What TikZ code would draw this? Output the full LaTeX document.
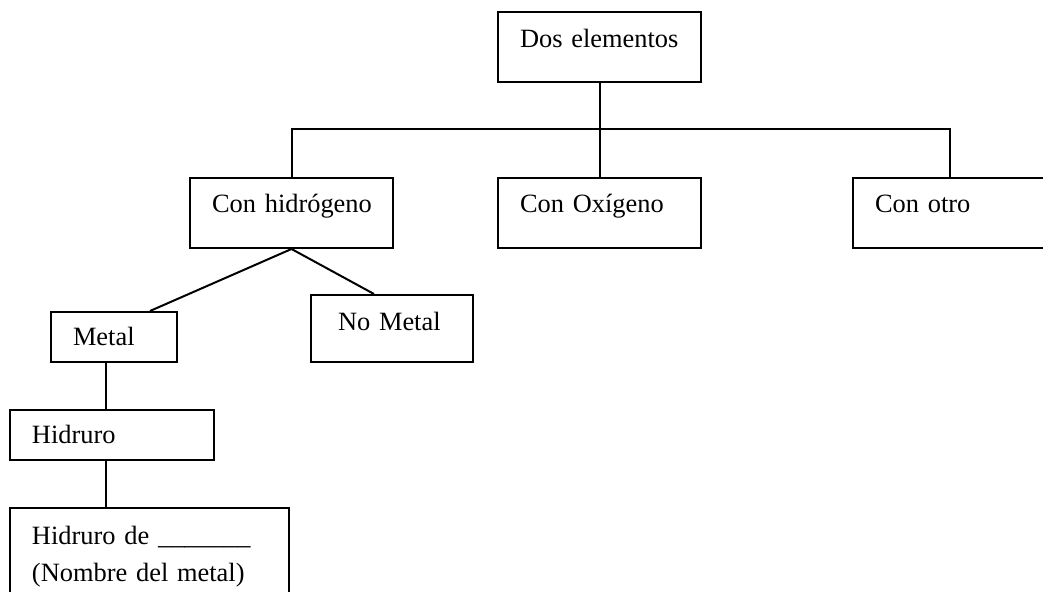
\documentclass[tikz,border=0pt]{standalone}
\usepackage{fontspec}
\setmainfont{Liberation Serif}

\begin{document}
\begin{tikzpicture}[x=.5pt,y=-.5pt,font={\fontsize{13.2}{18.5}\selectfont},
    box/.style={draw,line width=1pt,anchor=north west,inner xsep=11pt,inner ysep=0pt,align=left,text width=#1},
    wire/.style={line width=1pt}]
  \useasboundingbox (0,0) rectangle (1043,592);
  \clip (0,0) rectangle (1043,592);
  \node[box=79.5pt,text height=18pt,text depth=17pt] (dos) at (497,11) {Dos~elementos};
  \node[box=79.5pt,text height=17.5pt,text depth=17.5pt] (hidro) at (189,177) {Con~hidrógeno};
  \node[box=79.5pt,text height=17.5pt,text depth=17.5pt] (oxi) at (497,177) {Con~Oxígeno};
  \node[box=75pt,text height=17.5pt,text depth=17.5pt] (otro) at (852,177) {Con otro};
  \node[box=41pt,text height=17pt,text depth=8pt] (metal) at (50,311) {Metal};
  \node[box=54pt,inner xsep=13.5pt,text height=18pt,text depth=15.5pt] (nometal) at (310,294) {No Metal};
  \node[box=80pt,text height=17pt,text depth=8pt] (hidruro) at (9,409) {Hidruro};
  \node[box=117.5pt,text height=18pt,text depth=28.5pt] (nombre) at (9,507) {Hidruro de \_\_\_\_\_\_\_\\(Nombre del metal)};
  \coordinate (bus) at (0,129);
  \coordinate (spine) at (106,0);
  \draw[wire] (dos.south) -- (dos.south |- bus);
  \draw[wire] (hidro.north) |- (otro.north |- bus) -- (otro.north);
  \draw[wire] (oxi.north) -- (oxi.north |- bus);
  \draw[wire] (hidro.south) -- ([xshift=18pt]metal.north);
  \draw[wire] (hidro.south) -- ([xshift=-9pt]nometal.north);
  \draw[wire] (metal.south -| spine) -- (hidruro.north -| spine);
  \draw[wire] (hidruro.south -| spine) -- (nombre.north -| spine);
\end{tikzpicture}
\end{document}
